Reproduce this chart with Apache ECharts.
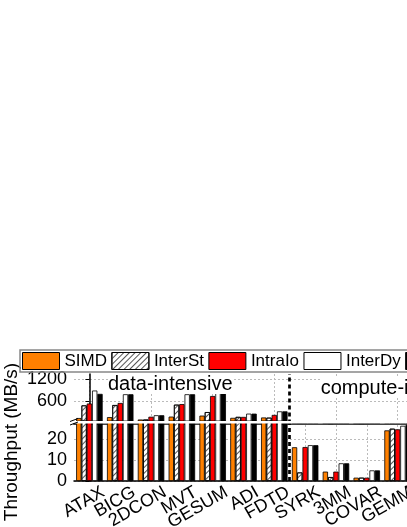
<!DOCTYPE html>
<html>
<head>
<meta charset="utf-8">
<script src="https://cdn.jsdelivr.net/npm/echarts@6/dist/echarts.min.js"></script>
<style>
  html, body { margin: 0; padding: 0; background: #fff; }
  #chart { width: 407px; height: 527px; }
</style>
</head>
<body>
<div id="chart"></div>
<script>
// benchmarks, the first 7 are data-intensive, the rest compute-intensive
const categories = ['ATAX', 'BICG', '2DCON', 'MVT', 'GESUM', 'ADI', 'FDTD', 'SYRK', '3MM', 'COVAR', 'GEMM']
const simd    = [150, 175, 110, 188, 215, 155, 165, 16.2, 4.5, 1.6, 24.3]
const interSt = [490, 500, 110, 510, 310, 180, 160, 4.1, 1.9, 1.6, 25.1]
const intraIo = [540, 555, 185, 525, 743, 180, 234, 16.3, 4.5, 1.6, 24.8]
const interDy = [890, 790, 225, 790, 880, 268, 330, 17.2, 8.5, 5.1, 26.5]
const intraDy = [800, 790, 225, 790, 870, 268, 330, 17.2, 8.5, 5.1, 27]

const upperTicks = [600, 1200]
const lowerTicks = [0, 10, 20]

const font = 'Liberation Sans, Arial, sans-serif'
const gridLine = { color: '#bbb', type: [2, 2], width: 1 }

const hatch = {
  symbol: 'rect',
  symbolSize: 1,
  color: '#555',
  dashArrayX: [1, 0],
  dashArrayY: [1, 3],
  rotation: -Math.PI / 4
}

const defs = [
  { name: 'SIMD', data: simd, color: '#FF8000' },
  { name: 'InterSt', data: interSt, color: '#FFFFFF', decal: hatch },
  { name: 'IntraIo', data: intraIo, color: '#FF0000' },
  { name: 'InterDy', data: interDy, color: '#FFFFFF' },
  { name: 'IntraDy', data: intraDy, color: '#000000' }
]

const makeBars = (grid) => defs.map(d => ({
  name: d.name,
  type: 'bar',
  xAxisIndex: grid,
  yAxisIndex: grid,
  data: d.data,
  barWidth: 5.3,
  barGap: '0%',
  itemStyle: {
    color: d.color,
    borderColor: '#000',
    borderWidth: 0.8,
    decal: d.decal
  },
  animation: false
}))

const divider = (grid) => ({
  type: 'line',
  xAxisIndex: grid + 2,
  yAxisIndex: grid,
  data: [],
  silent: true,
  z: 5,
  markLine: {
    symbol: 'none',
    silent: true,
    animation: false,
    label: { show: false },
    lineStyle: { color: '#000', type: [4, 3], width: 2.7 },
    data: [{ xAxis: 6.5 }]
  }
})

const yLabel = (ticks) => ({
  customValues: ticks,
  formatter: v => (ticks.includes(v) ? String(v) : ''),
  margin: 7,
  padding: [9, 0, 0, 0],
  fontSize: 18,
  fontFamily: font,
  color: '#000'
})

const chart = echarts.init(document.getElementById('chart'))

chart.setOption({
  backgroundColor: '#fff',
  animation: false,
  legend: {
    left: 20,
    top: 350,
    width: 700,
    icon: 'rect',
    itemWidth: 37,
    itemHeight: 17,
    itemGap: 4.4,
    padding: 2,
    borderColor: '#888',
    borderWidth: 1.5,
    textStyle: { fontSize: 17, fontFamily: font, color: '#000' },
    itemStyle: { borderColor: '#000', borderWidth: 1 },
    data: defs.map(d => d.name)
  },
  grid: [
    { left: 74, top: 374, right: -6, height: 49.6, outerBoundsMode: 'none', containLabel: false },
    { left: 74, top: 421, right: -6, height: 60, outerBoundsMode: 'none', containLabel: false }
  ],
  xAxis: [
    {
      gridIndex: 0,
      type: 'category',
      data: categories,
      position: 'top',
      axisLine: { lineStyle: { color: '#444', width: 2 } },
      axisTick: { inside: true, alignWithLabel: true, length: 5, lineStyle: { color: '#444' } },
      axisLabel: { show: false },
      splitLine: { show: true, alignWithLabel: true, lineStyle: gridLine }
    },
    {
      gridIndex: 1,
      type: 'category',
      data: categories,
      position: 'bottom',
      axisLine: { lineStyle: { color: '#000', width: 1.5 } },
      axisTick: { alignWithLabel: true, length: 4, lineStyle: { color: '#000' } },
      axisLabel: {
        interval: 0,
        rotate: 30,
        margin: 18,
        padding: [0, -16, 0, 0],
        fontSize: 18,
        fontFamily: font,
        color: '#000'
      },
      splitLine: { show: true, alignWithLabel: true, lineStyle: gridLine }
    },
    { gridIndex: 0, type: 'value', min: -0.5, max: 10.5, show: false },
    { gridIndex: 1, type: 'value', min: -0.5, max: 10.5, show: false }
  ],
  yAxis: [
    {
      gridIndex: 0,
      type: 'value',
      min: 0,
      max: 1335,
      interval: 600,
      axisLine: { show: true, lineStyle: { color: '#000', width: 1.5 } },
      axisTick: { show: true, length: 4, customValues: upperTicks, lineStyle: { color: '#000' } },
      axisLabel: yLabel(upperTicks),
      splitLine: { lineStyle: gridLine }
    },
    {
      gridIndex: 1,
      type: 'value',
      min: 0,
      max: 28.8,
      interval: 10,
      axisLine: { show: true, lineStyle: { color: '#000', width: 1.5 } },
      axisTick: { show: true, length: 4, customValues: lowerTicks, lineStyle: { color: '#000' } },
      axisLabel: yLabel(lowerTicks),
      splitLine: { lineStyle: gridLine }
    }
  ],
  series: [...makeBars(0), ...makeBars(1), divider(0), divider(1)],
  graphic: [
    {
      type: 'rect',
      z: 100,
      shape: { x: 75.5, y: 421, width: 340, height: 2.6 },
      style: { fill: '#fff' },
      silent: true
    },
    {
      type: 'line',
      z: 101,
      shape: { x1: 70, y1: 421.5, x2: 78, y2: 418.5 },
      style: { stroke: '#000', lineWidth: 1 }
    },
    {
      type: 'line',
      z: 101,
      shape: { x1: 70, y1: 425, x2: 78, y2: 422 },
      style: { stroke: '#000', lineWidth: 1 }
    },
    {
      type: 'text',
      z: 102,
      x: 108,
      y: 384,
      style: { text: 'data-intensive', font: '20px ' + font, fill: '#000', verticalAlign: 'middle', backgroundColor: '#fff' }
    },
    {
      type: 'text',
      z: 102,
      x: 320.7,
      y: 388,
      style: { text: 'compute-intensive', font: '20px ' + font, fill: '#000', verticalAlign: 'middle', backgroundColor: '#fff' }
    },
    {
      type: 'text',
      x: 12,
      y: 442,
      rotation: Math.PI / 2,
      style: { text: 'Throughput (MB/s)', font: '19px ' + font, fill: '#000', align: 'center', verticalAlign: 'middle' }
    }
  ]
})
</script>
</body>
</html>
